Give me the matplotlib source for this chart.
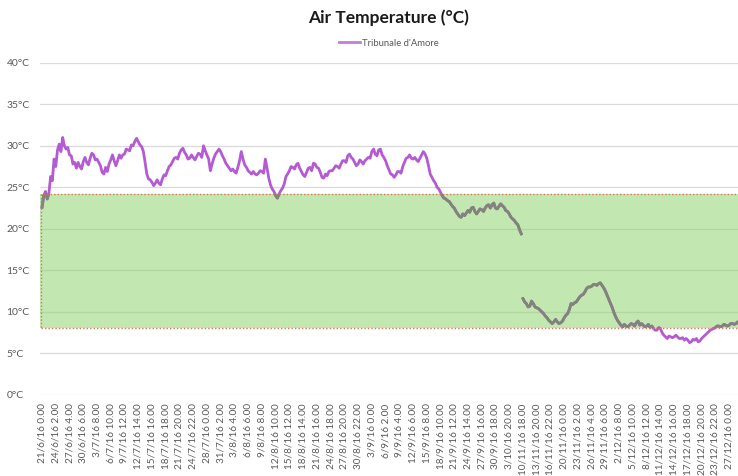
import matplotlib
matplotlib.use('Agg')
import matplotlib.pyplot as plt
from matplotlib.patches import Rectangle
import numpy as np

plt.rcParams['font.family'] = ['Lato', 'DejaVu Sans']

# ---------------- data ----------------
tick_labels = [
    "21/6/16 0.00", "24/6/16 2.00", "27/6/16 4.00", "30/6/16 6.00", "3/7/16 8.00",
    "6/7/16 10.00", "9/7/16 12.00", "12/7/16 14.00", "15/7/16 16.00", "18/7/16 18.00",
    "21/7/16 20.00", "24/7/16 22.00", "28/7/16 0.00", "31/7/16 2.00", "3/8/16 4.00",
    "6/8/16 6.00", "9/8/16 8.00", "12/8/16 10.00", "15/8/16 12.00", "18/8/16 14.00",
    "21/8/16 16.00", "24/8/16 18.00", "27/8/16 20.00", "30/8/16 22.00", "3/9/16 0.00",
    "6/9/16 2.00", "9/9/16 4.00", "12/9/16 6.00", "15/9/16 8.00", "18/9/16 10.00",
    "21/9/16 12.00", "24/9/16 14.00", "27/9/16 16.00", "30/9/16 18.00", "3/10/16 20.00",
    "10/11/16 18.00", "13/11/16 20.00", "16/11/16 22.00", "20/11/16 0.00", "23/11/16 2.00",
    "26/11/16 4.00", "29/11/16 6.00", "2/12/16 8.00", "5/12/16 10.00", "8/12/16 12.00",
    "11/12/16 14.00", "14/12/16 16.00", "17/12/16 18.00", "20/12/16 20.00", "23/12/16 22.00",
    "27/12/16 0.00",
]
hours_per_tick = 74      # hourly records between two labelled categories
step_hours = 9.25        # spacing of the read-off samples

# summer/autumn segment (from 21/6/16 0.00)
seg1_temps = [
    22.6, 24.0, 24.5, 23.6, 24.3, 26.3, 25.8, 28.4, 27.5, 29.5, 30.2, 29.3, 31.0, 30.0, 29.6, 29.8, 28.9, 28.8, 27.8, 28.0,
    27.3, 28.0, 27.5, 27.2, 28.1, 28.6, 28.0, 27.7, 28.5, 29.1, 28.9, 28.3, 28.4, 28.0, 27.6, 26.8, 26.6, 27.4, 26.9, 27.8,
    28.3, 28.9, 28.2, 27.6, 28.2, 28.9, 28.5, 28.9, 29.0, 29.6, 29.5, 29.4, 30.1, 30.0, 30.5, 30.9, 30.5, 30.1, 29.9, 29.3,
    28.0, 26.6, 26.0, 25.9, 25.6, 25.2, 25.5, 25.9, 25.5, 25.3, 26.0, 26.5, 26.4, 27.0, 27.5, 27.7, 28.1, 28.5, 28.6, 28.4,
    29.1, 29.5, 29.7, 29.2, 28.9, 28.4, 28.5, 28.9, 28.6, 28.3, 28.7, 29.1, 29.0, 28.6, 30.0, 29.4, 28.9, 28.4, 27.0, 27.8,
    28.5, 29.0, 29.3, 29.6, 29.3, 28.8, 28.4, 27.9, 27.6, 27.3, 27.0, 27.2, 26.9, 26.7, 27.4, 28.2, 29.3, 28.4, 27.7, 27.4,
    27.0, 26.8, 26.6, 26.9, 26.6, 26.5, 26.7, 27.0, 26.9, 26.7, 28.4, 27.3, 26.1, 25.3, 24.8, 24.5, 24.0, 23.7, 24.2, 24.6,
    24.9, 25.4, 26.3, 26.6, 27.0, 27.5, 27.4, 27.2, 27.7, 27.9, 27.3, 26.9, 26.5, 26.3, 26.8, 27.3, 27.4, 27.0, 27.9, 27.8,
    27.4, 27.3, 26.8, 26.2, 26.1, 26.6, 26.4, 26.9, 27.0, 27.0, 27.3, 27.6, 27.5, 27.3, 27.8, 28.2, 28.2, 28.0, 28.8, 29.0,
    28.6, 28.4, 28.0, 27.6, 27.8, 28.3, 28.1, 27.8, 28.2, 28.4, 28.6, 28.5, 29.3, 29.6, 29.0, 28.8, 29.5, 29.6, 28.9, 28.6,
    28.2, 27.6, 27.1, 26.6, 26.5, 26.2, 26.5, 26.9, 26.9, 26.7, 27.5, 28.0, 28.5, 28.6, 28.9, 28.5, 28.4, 28.6, 28.3, 28.1,
    28.5, 28.9, 29.3, 29.0, 28.5, 27.6, 26.6, 26.2, 25.8, 25.5, 25.0, 24.8, 24.4, 24.0, 23.7, 23.6, 23.4, 23.3, 23.0, 22.7,
    22.5, 22.1, 21.8, 21.5, 21.4, 21.8, 21.6, 21.9, 22.2, 22.0, 22.5, 22.6, 22.1, 21.8, 22.1, 22.4, 22.3, 22.1, 22.5, 22.8,
    22.9, 22.5, 22.9, 23.1, 22.5, 22.4, 22.7, 23.0, 22.8, 22.6, 22.2, 22.1, 21.8, 21.4, 21.2, 21.0, 20.7, 20.5, 19.9, 19.4,
]
# winter segment (from 10/11/16 18.00)
seg2_start_tick = 35
seg2_temps = [
    11.6, 11.2, 11.0, 10.6, 10.7, 11.3, 11.0, 10.6, 10.5, 10.4, 10.2, 10.0, 9.8, 9.5, 9.3, 9.0, 8.8, 8.6, 8.8, 9.1,
    8.8, 8.6, 8.7, 8.9, 9.3, 9.6, 9.8, 10.3, 11.0, 10.9, 11.1, 11.2, 11.5, 11.8, 12.0, 12.1, 12.4, 12.8, 13.0, 13.0,
    13.1, 13.3, 13.3, 13.2, 13.4, 13.5, 13.2, 12.9, 12.5, 12.0, 11.5, 11.0, 10.5, 9.9, 9.4, 9.0, 8.7, 8.4, 8.2, 8.5,
    8.3, 8.2, 8.4, 8.6, 8.5, 8.3, 8.7, 8.9, 8.4, 8.6, 8.4, 8.2, 8.3, 8.5, 8.1, 8.3, 8.0, 7.8, 7.8, 8.1,
    8.0, 7.5, 7.2, 7.0, 6.8, 7.1, 7.0, 6.9, 7.0, 7.2, 7.0, 6.8, 6.8, 6.9, 6.6, 6.8, 6.6, 6.3, 6.4, 6.7,
    6.6, 6.8, 6.4, 6.5, 6.8, 7.0, 7.2, 7.4, 7.6, 7.8, 7.9, 8.0, 8.1, 8.3, 8.3, 8.2, 8.3, 8.5, 8.4, 8.3,
    8.4, 8.6, 8.6, 8.5, 8.6, 8.8, 8.5,
]
band_low, band_high = 8.1, 24.2
y_ticks = [0, 5, 10, 15, 20, 25, 30, 35, 40]
series_name = "Tribunale d'Amore"
title = "Air Temperature (°C)"

# ---------------- figure ----------------
W, H = 738, 476
fig = plt.figure(figsize=(W / 100, H / 100), dpi=100)
ax = fig.add_axes([40 / W, (H - 395) / H, (W - 40) / W, (395 - 62.7) / H])

x1 = np.arange(len(seg1_temps)) * step_hours
x2 = seg2_start_tick * hours_per_tick + np.arange(len(seg2_temps)) * step_hours
xmin, xmax = -11, 3748
ax.set_xlim(xmin, xmax)
ax.set_ylim(0, 40)

for s in ax.spines.values():
    s.set_visible(False)

for yv in y_ticks:
    ax.axhline(yv, color='#d9d9d9', lw=0.9, zorder=0.5)

band = Rectangle((xmin, band_low), xmax - xmin, band_high - band_low,
                 facecolor='#c3e7b1', edgecolor='none', zorder=1)
ax.add_patch(band)
border = Rectangle((xmin + 3, band_low), xmax - xmin + 10, band_high - band_low,
                   facecolor='none', edgecolor='#e0705e', lw=1.0, ls=(0, (1, 1.5)), zorder=3)
ax.add_patch(border)
for yv in y_ticks:
    if band_low < yv < band_high:
        ax.axhline(yv, color='#b2d6a0', lw=0.9, zorder=1.2)

purple = '#b45ad2'
gray = '#7e8677'
lw = 2.0
l1, = ax.plot(x1, seg1_temps, color=purple, lw=lw, zorder=2, label=series_name)
ax.plot(x2, seg2_temps, color=purple, lw=lw, zorder=2)

clip = Rectangle((xmin, band_low), xmax - xmin, band_high - band_low, transform=ax.transData)
for xs, ys in ((x1, seg1_temps), (x2, seg2_temps)):
    g, = ax.plot(xs, ys, color=gray, lw=lw, zorder=2.5)
    g.set_clip_path(clip)

ax.set_yticks(y_ticks)
ax.set_yticklabels([f"{v}°C" for v in y_ticks], fontsize=7.5, color='#595959', ha='left')
ax.tick_params(axis='y', length=0, pad=24)

xt = np.arange(len(tick_labels)) * hours_per_tick
ax.set_xticks(xt)
ax.set_xticklabels(tick_labels, rotation=90, fontsize=7.2, color='#595959')
ax.tick_params(axis='x', length=0, pad=6)

fig.text(389 / W, 1 - 18 / H, title, ha='center', va='center',
         fontsize=12.5, fontweight='bold', color='#1a1a1a')

leg = ax.legend(handles=[l1], loc='center', bbox_to_anchor=(0.5, 1 + (62.7 - 43) / 332.3),
                frameon=False, fontsize=6.8, handlelength=2.2, handletextpad=0.3)
leg.get_lines()[0].set_color('#c07fd8')
for t in leg.get_texts():
    t.set_color('#595959')

fig.savefig('out.png', dpi=100)
